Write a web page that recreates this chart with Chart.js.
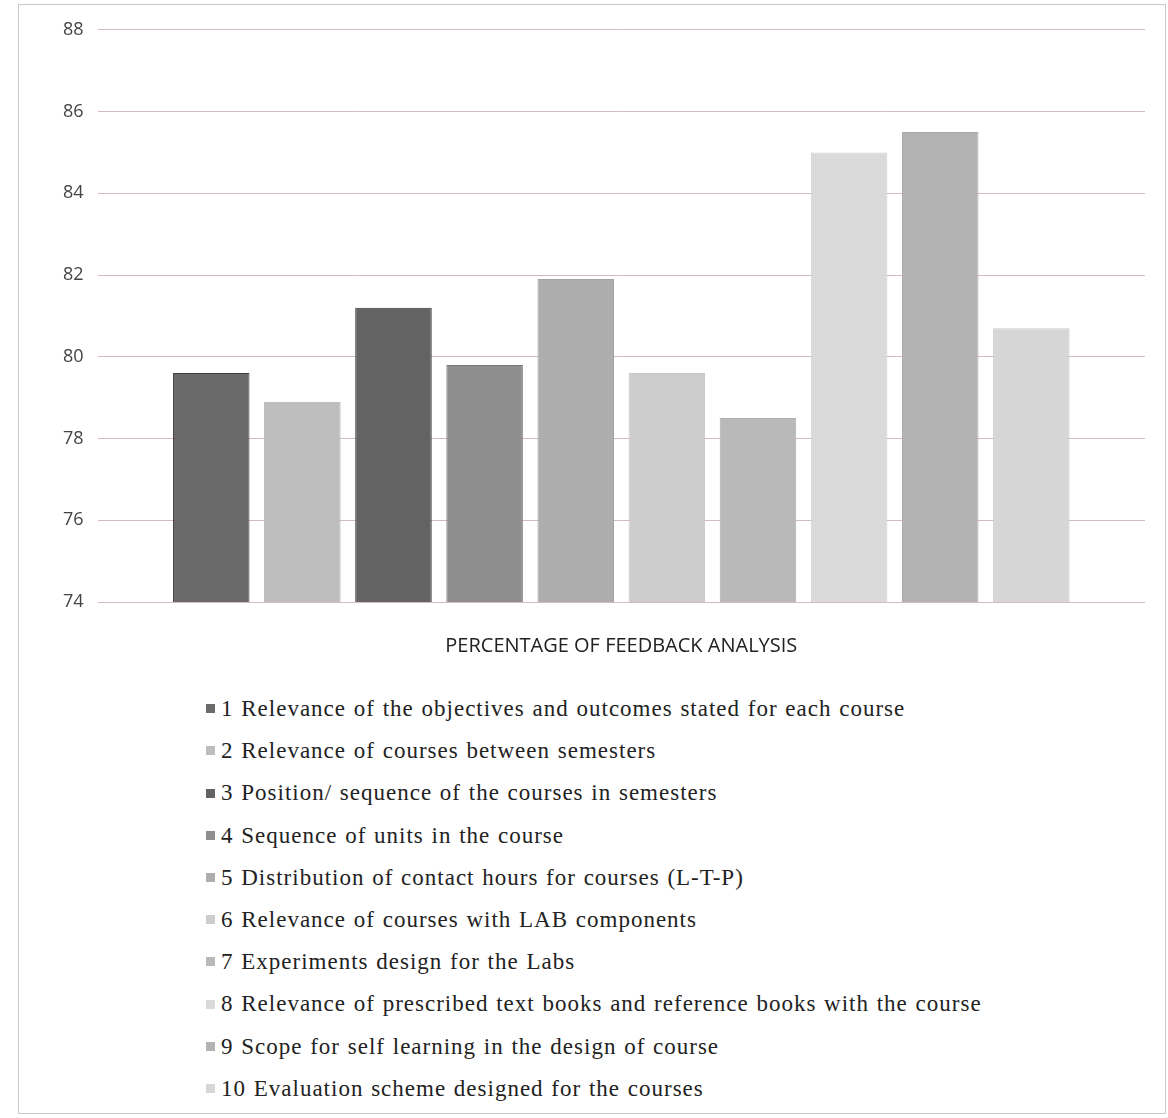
<!DOCTYPE html>
<html>
<head>
<meta charset="utf-8">
<script src="https://cdn.jsdelivr.net/npm/chart.js@4"></script>
<style>
  body { margin: 0; background: #fff; }
  #frame { position: absolute; left: 18px; top: 4px; width: 1146px; height: 1108px; border: 1px solid #c8c8c8; }
  #chartBox { position: relative; width: 1146px; height: 681px; }
  #legend { list-style: none; margin: 2px 0 0 0; padding: 0 0 0 187px; font-family: "Liberation Serif", "DejaVu Serif", serif; font-size: 23px; letter-spacing: 1px; word-spacing: 1px; color: #222; }
  #legend li { height: 42.2px; line-height: 42.2px; white-space: nowrap; }
  #legend span.box { display: inline-block; width: 9px; height: 9px; margin-right: 6px; vertical-align: middle; position: relative; top: -2px; }
</style>
</head>
<body>
<div id="frame">
  <div id="chartBox"><canvas id="myChart"></canvas></div>
  <ul id="legend"></ul>
</div>
<script>
// chart data
var categories = ['PERCENTAGE OF FEEDBACK ANALYSIS'];
var seriesNames = [
  '1 Relevance of the objectives and outcomes stated for each course',
  '2 Relevance of courses between semesters',
  '3 Position/ sequence of the courses in semesters',
  '4 Sequence of units in the course',
  '5 Distribution of contact hours for courses (L-T-P)',
  '6 Relevance of courses with LAB components',
  '7 Experiments design for the Labs',
  '8 Relevance of prescribed text books and reference books with the course',
  '9 Scope for self learning in the design of course',
  '10 Evaluation scheme designed for the courses'
];
var seriesValues = [79.6, 78.9, 81.2, 79.8, 81.9, 79.6, 78.5, 85.0, 85.5, 80.7];
var yMin = 74, yMax = 88, yStep = 2;

var barColors = ['#6a6a6a', '#bdbdbd', '#636363', '#8e8e8e', '#adadad', '#cdcdcd', '#b9b9b9', '#dadada', '#b3b3b3', '#d6d6d6'];
var edgeColors = ['#3e3e3e', '#b0b0b0', '#3a3a3a', '#7a7a7a', '#a3a3a3', '#c4c4c4', '#afafaf', '#d0d0d0', '#a8a8a8', '#cccccc'];

var datasets = seriesNames.map(function (name, i) {
  return {
    label: name,
    data: [seriesValues[i]],
    backgroundColor: barColors[i],
    borderColor: edgeColors[i],
    borderWidth: 1,
    categoryPercentage: 0.87,
    barPercentage: 0.84
  };
});

var ctx = document.getElementById('myChart').getContext('2d');
var barChart = new Chart(ctx, {
  type: 'bar',
  data: { labels: categories, datasets: datasets },
  options: {
    responsive: true,
    maintainAspectRatio: false,
    animation: false,
    layout: { padding: { left: 30, right: 20, top: 16, bottom: 4 } },
    plugins: {
      legend: { display: false },
      tooltip: { enabled: false }
    },
    scales: {
      x: {
        grid: { display: false },
        border: { display: false },
        ticks: { color: '#222', padding: 24, font: { family: 'Open Sans', size: 20 } }
      },
      y: {
        min: yMin,
        max: yMax,
        border: { display: false },
        grid: { color: '#d2bac0', lineWidth: 1, drawTicks: false },
        ticks: { stepSize: yStep, padding: 14, color: '#444', font: { family: 'Open Sans', size: 18 } }
      }
    }
  }
});

// vertical legend list built from the chart datasets
var legend = document.getElementById('legend');
barChart.data.datasets.forEach(function (ds) {
  var li = document.createElement('li');
  var box = document.createElement('span');
  box.className = 'box';
  box.style.background = ds.backgroundColor;
  li.appendChild(box);
  li.appendChild(document.createTextNode(ds.label));
  legend.appendChild(li);
});
</script>
</body>
</html>
